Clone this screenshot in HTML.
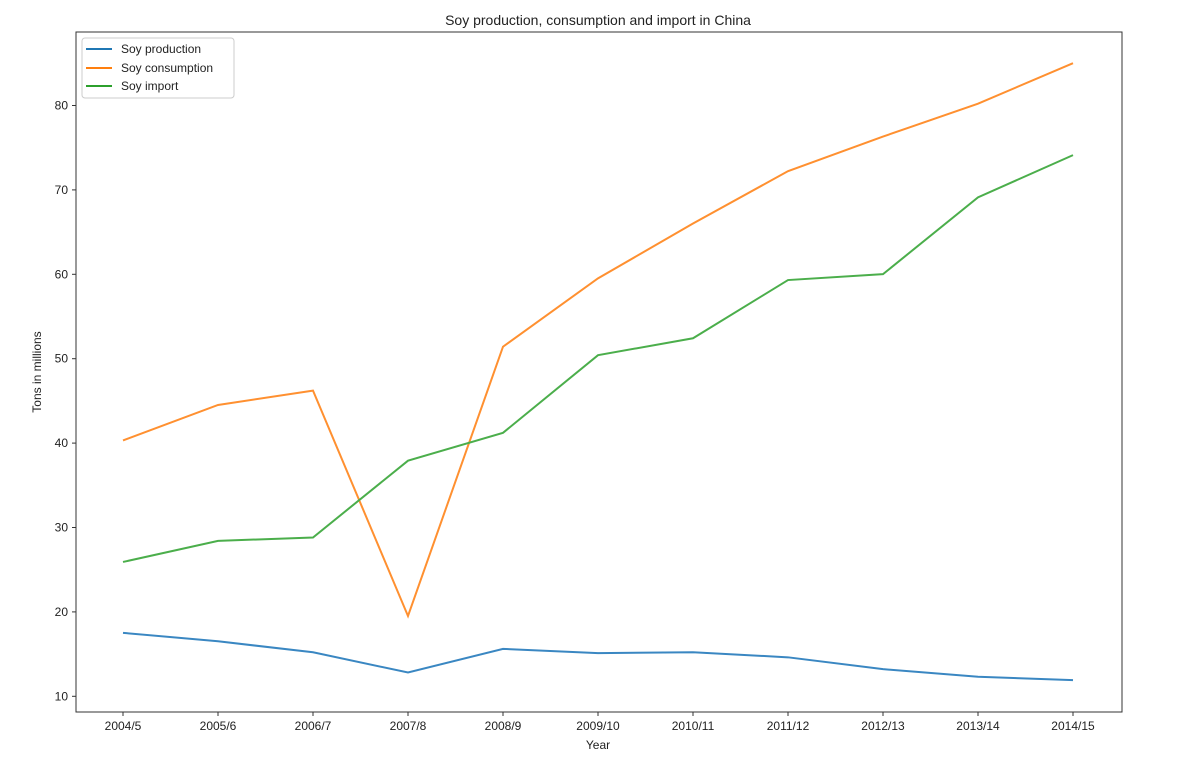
<!DOCTYPE html>
<html><head><meta charset="utf-8"><style>
body{margin:0;background:#fff;}
svg text{font-family:"Liberation Sans","DejaVu Sans",sans-serif;fill:#222;}
</style></head><body>
<svg id="c" width="1196" height="768" xmlns="http://www.w3.org/2000/svg">
<rect width="1196" height="768" fill="#fff"/>
<text x="598" y="25" font-size="14" text-anchor="middle">Soy production, consumption and import in China</text>
<g id="g"></g>
<rect x="76" y="32" width="1046" height="680" fill="none" stroke="#333" stroke-width="1"/>
<text x="598" y="749" font-size="12" text-anchor="middle">Year</text>
<text transform="translate(41,372) rotate(-90)" font-size="12" text-anchor="middle">Tons in millions</text>
<rect x="82" y="38" width="152" height="60" rx="3" fill="#fff" stroke="#ccc"/>
<line x1="86" y1="49" x2="112" y2="49" stroke="#1f77b4" stroke-width="2"/>
<line x1="86" y1="68" x2="112" y2="68" stroke="#ff7f0e" stroke-width="2"/>
<line x1="86" y1="86" x2="112" y2="86" stroke="#2ca02c" stroke-width="2"/>
<text x="121" y="53" font-size="12">Soy production</text>
<text x="121" y="72" font-size="12">Soy consumption</text>
<text x="121" y="90" font-size="12">Soy import</text>
</svg>
<script>
var g=document.getElementById('g'),s='';
var labs=['2004/5','2005/6','2006/7','2007/8','2008/9','2009/10','2010/11','2011/12','2012/13','2013/14','2014/15'];
function X(i){return 123+i*95;}
function Y(v){return 696.3-(v-10)*8.44;}
labs.forEach(function(l,i){s+='<line x1="'+X(i)+'" y1="712" x2="'+X(i)+'" y2="716" stroke="#333"/><text x="'+X(i)+'" y="730" font-size="12" text-anchor="middle">'+l+'</text>';});
for(var v=10;v<=80;v+=10){s+='<line x1="72" y1="'+Y(v)+'" x2="76" y2="'+Y(v)+'" stroke="#333"/><text x="68" y="'+(Y(v)+4)+'" font-size="12" text-anchor="end">'+v+'</text>';}
var d=[[[17.4,16.4,15.1,12.7,15.5,15.0,15.1,14.5,13.1,12.2,11.8],'#3a87c2'],
[[40.2,44.4,46.1,19.4,51.3,59.4,65.9,72.1,76.2,80.1,84.9],'#ff9030'],
[[25.8,28.3,28.7,37.8,41.1,50.3,52.3,59.2,59.9,69.0,74.0],'#4bae4b']];
d.forEach(function(r){s+='<polyline fill="none" stroke-width="2" stroke="'+r[1]+'" points="'+r[0].map(function(v,i){return X(i)+','+(Y(v)-1);}).join(' ')+'"/>';});
g.innerHTML=s;
</script>
</body></html>
